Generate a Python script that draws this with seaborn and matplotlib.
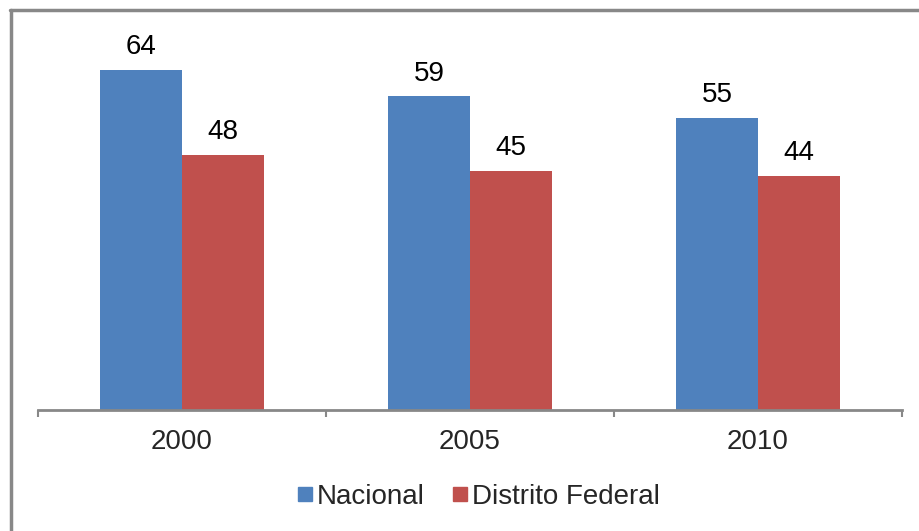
import seaborn as sns
import matplotlib.pyplot as plt
import pandas as pd
from matplotlib.lines import Line2D

# data
years = ["2000", "2005", "2010"]
nacional = [64, 59, 55]
distrito = [48, 45, 44]
series = ["Nacional", "Distrito Federal"]
colors = ["#4F81BD", "#C0504D"]

df = pd.DataFrame({
    "year": years * 2,
    "value": nacional + distrito,
    "series": [series[0]] * 3 + [series[1]] * 3,
})

sns.set_theme(style="white")
plt.rcParams["font.family"] = ["Liberation Sans", "DejaVu Sans"]

fig = plt.figure(figsize=(9.2, 5.31), dpi=100)
ax = fig.add_axes([38 / 920, 121 / 531, 864 / 920, 371 / 531])

sns.barplot(data=df, x="year", y="value", hue="series", palette=colors,
            width=0.57, gap=0, saturation=1, linewidth=0, legend=False, ax=ax)

for c in ax.containers:
    ax.bar_label(c, padding=7, fontsize=20, color="black")

ax.set_xlim(-0.5, 2.5)
ax.set_ylim(0, 69.8)
ax.set_xlabel("")
ax.set_ylabel("")
ax.set_yticks([])
for s in ["top", "right", "left"]:
    ax.spines[s].set_visible(False)
ax.spines["bottom"].set_color("#888888")
ax.spines["bottom"].set_linewidth(2)

# ticks between groups
ax.set_xticks([-0.5, 0.5, 1.5, 2.5])
ax.set_xticklabels([])
ax.set_xticks([0, 1, 2], minor=True)
ax.set_xticklabels(years, minor=True, fontsize=20)
ax.tick_params(axis="x", which="major", direction="out", length=5,
               width=1.5, color="#888888", bottom=True)
ax.tick_params(axis="x", which="minor", length=0, pad=14)

# legend
handles = [Line2D([], [], marker="s", linestyle="", markersize=9.5,
                  markerfacecolor=col, markeredgecolor=col) for col in colors]
fig.legend(handles, series, loc="center", bbox_to_anchor=(479 / 920, 1 - 497 / 531),
           ncol=2, frameon=False, fontsize=20, handletextpad=0.2,
           columnspacing=1.0, handlelength=0.5)

# outer border (left and top)
fig.add_artist(Line2D([11 / 920, 11 / 920], [0, 1 - 10 / 531],
                      color="#888888", linewidth=2.5, transform=fig.transFigure))
fig.add_artist(Line2D([10 / 920, 1], [1 - 10 / 531, 1 - 10 / 531],
                      color="#888888", linewidth=2.5, transform=fig.transFigure))

fig.savefig("out.png", dpi=100)
